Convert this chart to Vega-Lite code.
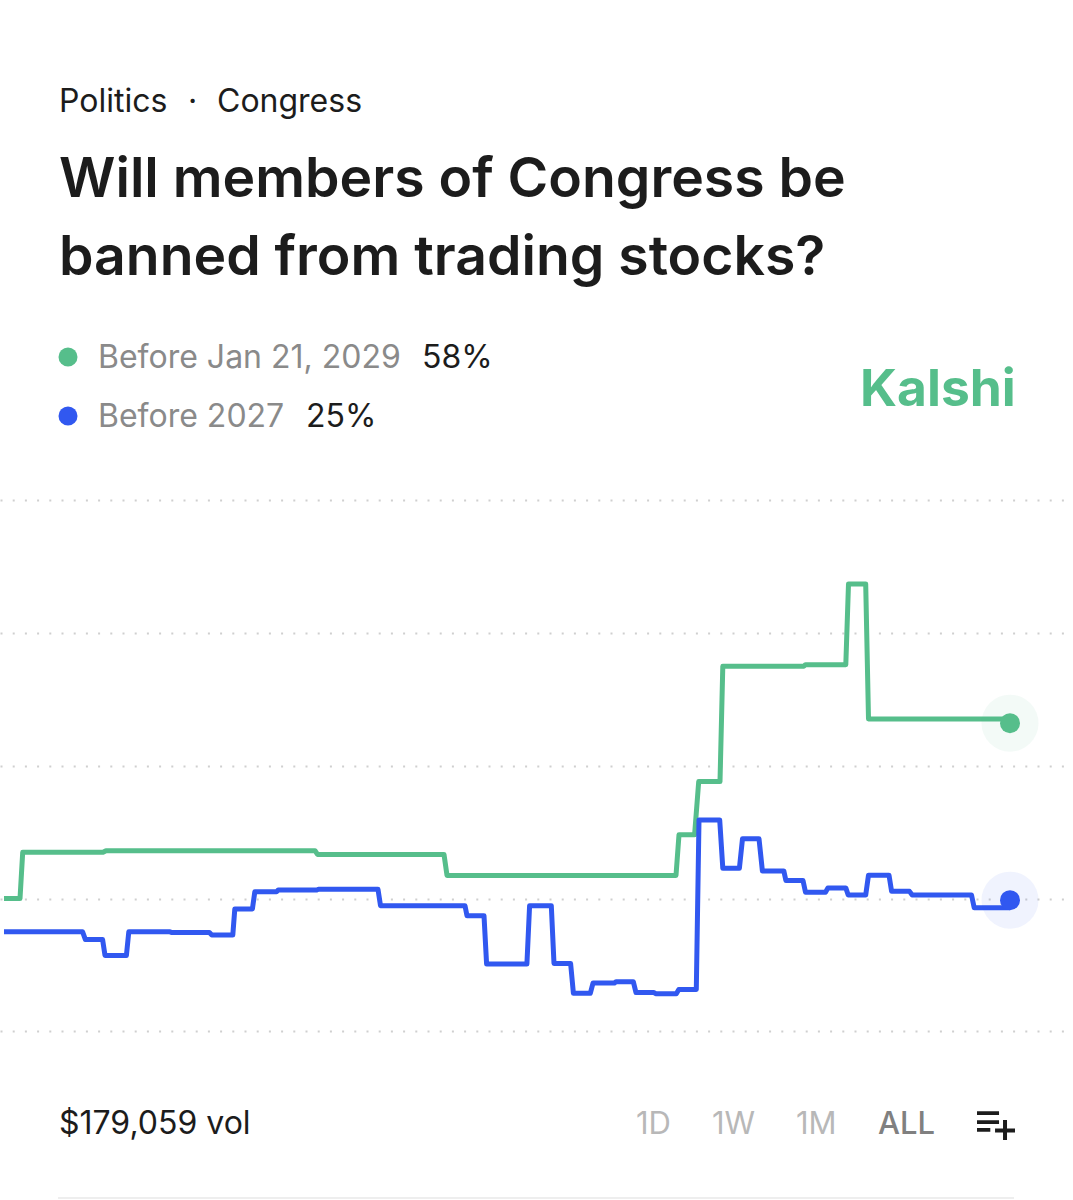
{"$schema":"https://vega.github.io/schema/vega-lite/v6.json","width":1073,"height":1200,"padding":0,"autosize":{"type":"fit","contains":"padding"},"background":"white","config":{"view":{"stroke":null},"text":{"font":"Inter","align":"left","baseline":"alphabetic"}},
"datasets":{"history":[
{"series":"green","t":4,"pct":25.0},{"series":"green","t":20,"pct":25.0},{"series":"green","t":22.7,"pct":33.7},{"series":"green","t":103,"pct":33.7},{"series":"green","t":106,"pct":34.0},{"series":"green","t":315,"pct":34.0},{"series":"green","t":317.5,"pct":33.3},{"series":"green","t":444,"pct":33.3},{"series":"green","t":447,"pct":29.35},{"series":"green","t":676,"pct":29.35},{"series":"green","t":679,"pct":37.0},{"series":"green","t":694.6,"pct":37.0},{"series":"green","t":698.7,"pct":47.0},{"series":"green","t":720,"pct":47.0},{"series":"green","t":722.8,"pct":68.7},{"series":"green","t":803.8,"pct":68.7},{"series":"green","t":805.5,"pct":69.0},{"series":"green","t":845.8,"pct":69.0},{"series":"green","t":848.5,"pct":84.2},{"series":"green","t":865.7,"pct":84.2},{"series":"green","t":868.5,"pct":58.8},{"series":"green","t":1010,"pct":58.8},
{"series":"blue","t":4,"pct":18.74},{"series":"blue","t":82.6,"pct":18.74},{"series":"blue","t":85.4,"pct":17.27},{"series":"blue","t":102.6,"pct":17.27},{"series":"blue","t":105,"pct":14.3},{"series":"blue","t":126.4,"pct":14.3},{"series":"blue","t":128.8,"pct":18.74},{"series":"blue","t":170,"pct":18.74},{"series":"blue","t":172,"pct":18.6},{"series":"blue","t":209.4,"pct":18.6},{"series":"blue","t":211.8,"pct":18.14},{"series":"blue","t":232.8,"pct":18.14},{"series":"blue","t":234.8,"pct":23.03},{"series":"blue","t":252.4,"pct":23.03},{"series":"blue","t":254.8,"pct":26.26},{"series":"blue","t":276.5,"pct":26.26},{"series":"blue","t":278.2,"pct":26.6},{"series":"blue","t":316.8,"pct":26.6},{"series":"blue","t":318.5,"pct":26.74},{"series":"blue","t":378,"pct":26.74},{"series":"blue","t":380.5,"pct":23.65},{"series":"blue","t":465,"pct":23.65},{"series":"blue","t":467,"pct":21.77},{"series":"blue","t":484,"pct":21.77},{"series":"blue","t":486.6,"pct":12.68},{"series":"blue","t":526.9,"pct":12.68},{"series":"blue","t":529.6,"pct":23.65},{"series":"blue","t":551.3,"pct":23.65},{"series":"blue","t":554,"pct":12.8},{"series":"blue","t":570.6,"pct":12.8},{"series":"blue","t":573.4,"pct":7.17},{"series":"blue","t":590.3,"pct":7.17},{"series":"blue","t":593,"pct":9.1},{"series":"blue","t":614.4,"pct":9.1},{"series":"blue","t":616,"pct":9.35},{"series":"blue","t":633.3,"pct":9.35},{"series":"blue","t":636,"pct":7.3},{"series":"blue","t":654,"pct":7.3},{"series":"blue","t":655.7,"pct":7.1},{"series":"blue","t":676.3,"pct":7.1},{"series":"blue","t":678.8,"pct":7.9},{"series":"blue","t":696.3,"pct":7.9},{"series":"blue","t":699,"pct":39.8},{"series":"blue","t":719.7,"pct":39.8},{"series":"blue","t":722.8,"pct":30.7},{"series":"blue","t":739.4,"pct":30.7},{"series":"blue","t":742.5,"pct":36.26},{"series":"blue","t":759,"pct":36.26},{"series":"blue","t":762.4,"pct":30.2},{"series":"blue","t":783.8,"pct":30.2},{"series":"blue","t":785.9,"pct":28.4},{"series":"blue","t":803,"pct":28.4},{"series":"blue","t":805.5,"pct":26.2},{"series":"blue","t":825.5,"pct":26.2},{"series":"blue","t":827.9,"pct":27.0},{"series":"blue","t":845.8,"pct":27.0},{"series":"blue","t":848.2,"pct":25.66},{"series":"blue","t":865.7,"pct":25.66},{"series":"blue","t":868.5,"pct":29.4},{"series":"blue","t":889,"pct":29.4},{"series":"blue","t":891.6,"pct":26.35},{"series":"blue","t":909.5,"pct":26.35},{"series":"blue","t":912.2,"pct":25.66},{"series":"blue","t":971.5,"pct":25.66},{"series":"blue","t":974.2,"pct":23.27},{"series":"blue","t":1010,"pct":23.27}],
"latest":[{"series":"green","t":1010,"pct":58},{"series":"blue","t":1010,"pct":24.7}]},
"layer":[
{"data":{"name":"history"},
"encoding":{"x":{"field":"t","type":"quantitative","axis":null,"scale":{"domain":[0,1073],"nice":false,"zero":false}},"y":{"field":"pct","type":"quantitative","scale":{"domain":[-31.72,194.06],"nice":false,"zero":false},"axis":{"values":[0,25,50,75,100],"grid":true,"gridColor":"#cfcfcf","gridWidth":2,"gridDash":[2,10.2],"domain":false,"ticks":false,"labels":false,"title":null}},"color":{"field":"series","type":"nominal","legend":null,"scale":{"domain":["green","blue"],"range":["#56BE8B","#3158F0"]}}},
"layer":[
{"mark":{"type":"line","strokeWidth":5,"strokeJoin":"round","strokeCap":"butt"}},
{"data":{"name":"latest"},"mark":{"type":"point","filled":true,"size":3249,"opacity":0.07,"stroke":null}},
{"data":{"name":"latest"},"mark":{"type":"point","filled":true,"size":400,"opacity":1,"stroke":null}}]},
{"data":{"values":[{"id":"chrome"}]},
"layer":[
{"mark":{"type":"text","text":"Politics","fontSize":32,"color":"#1c1c1c"},"encoding":{"x":{"datum":59,"type":"quantitative","axis":null,"scale":{"domain":[0,1073],"nice":false,"zero":false}},"y":{"datum":112,"type":"quantitative","axis":null,"scale":{"domain":[1200,0],"nice":false,"zero":false}}}},
{"mark":{"type":"text","text":"·","fontSize":32,"color":"#1c1c1c"},"encoding":{"x":{"datum":188,"type":"quantitative"},"y":{"datum":112,"type":"quantitative"}}},
{"mark":{"type":"text","text":"Congress","fontSize":32,"color":"#1c1c1c"},"encoding":{"x":{"datum":217,"type":"quantitative"},"y":{"datum":112,"type":"quantitative"}}},
{"mark":{"type":"text","text":"Will members of Congress be","fontSize":55.3,"fontWeight":600,"color":"#1c1c1c"},"encoding":{"x":{"datum":59,"type":"quantitative"},"y":{"datum":197,"type":"quantitative"}}},
{"mark":{"type":"text","text":"banned from trading stocks?","fontSize":55.3,"fontWeight":600,"color":"#1c1c1c"},"encoding":{"x":{"datum":59,"type":"quantitative"},"y":{"datum":275,"type":"quantitative"}}},
{"mark":{"type":"point","filled":true,"size":361,"opacity":1,"stroke":null,"color":"#56BE8B"},"encoding":{"x":{"datum":68,"type":"quantitative"},"y":{"datum":357,"type":"quantitative"}}},
{"mark":{"type":"point","filled":true,"size":361,"opacity":1,"stroke":null,"color":"#3158F0"},"encoding":{"x":{"datum":68,"type":"quantitative"},"y":{"datum":416,"type":"quantitative"}}},
{"mark":{"type":"text","text":"Before Jan 21, 2029","fontSize":32,"color":"#8a8a8a"},"encoding":{"x":{"datum":98,"type":"quantitative"},"y":{"datum":368,"type":"quantitative"}}},
{"mark":{"type":"text","text":"58%","fontSize":32,"color":"#1c1c1c"},"encoding":{"x":{"datum":422,"type":"quantitative"},"y":{"datum":368,"type":"quantitative"}}},
{"mark":{"type":"text","text":"Before 2027","fontSize":32,"color":"#8a8a8a"},"encoding":{"x":{"datum":98,"type":"quantitative"},"y":{"datum":427,"type":"quantitative"}}},
{"mark":{"type":"text","text":"25%","fontSize":32,"color":"#1c1c1c"},"encoding":{"x":{"datum":306,"type":"quantitative"},"y":{"datum":427,"type":"quantitative"}}},
{"mark":{"type":"text","text":"Kalshi","fontSize":51.5,"fontWeight":700,"color":"#56BE8B"},"encoding":{"x":{"datum":860,"type":"quantitative"},"y":{"datum":406,"type":"quantitative"}}},
{"mark":{"type":"text","text":"$179,059 vol","fontSize":32,"color":"#1c1c1c"},"encoding":{"x":{"datum":59,"type":"quantitative"},"y":{"datum":1134,"type":"quantitative"}}},
{"mark":{"type":"text","text":"1D","fontSize":31,"color":"#b8b8b8"},"encoding":{"x":{"datum":636,"type":"quantitative"},"y":{"datum":1134,"type":"quantitative"}}},
{"mark":{"type":"text","text":"1W","fontSize":31,"color":"#b8b8b8"},"encoding":{"x":{"datum":712,"type":"quantitative"},"y":{"datum":1134,"type":"quantitative"}}},
{"mark":{"type":"text","text":"1M","fontSize":31,"color":"#b8b8b8"},"encoding":{"x":{"datum":796,"type":"quantitative"},"y":{"datum":1134,"type":"quantitative"}}},
{"mark":{"type":"text","text":"ALL","fontSize":31,"fontWeight":500,"color":"#808080"},"encoding":{"x":{"datum":878,"type":"quantitative"},"y":{"datum":1134,"type":"quantitative"}}},
{"mark":{"type":"point","filled":true,"stroke":null,"opacity":1,"color":"#1c1c1c","size":1444,"shape":"M-1 -.8H.16V-.6H-1ZM-1 -.33H.16V-.13H-1ZM-1 .08H-.3V.28H-1ZM-.05 .11H1V.31H-.05ZM.37 -.34H.58V.71H.37Z"},"encoding":{"x":{"datum":996,"type":"quantitative"},"y":{"datum":1126.5,"type":"quantitative"}}},
{"mark":{"type":"rule","color":"#eeeeee","strokeWidth":2},"encoding":{"x":{"datum":58,"type":"quantitative"},"x2":{"datum":1014},"y":{"datum":1198,"type":"quantitative"}}}
]}],
"resolve":{"scale":{"x":"independent","y":"independent","color":"independent"}}}
